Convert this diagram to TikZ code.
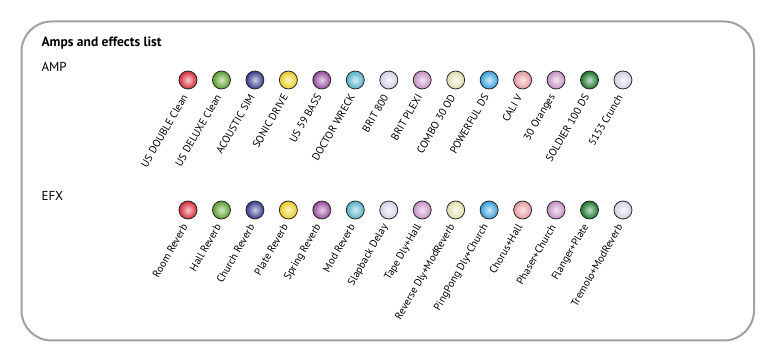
\documentclass[tikz,border=0pt]{standalone}
\usepackage{fontspec}
\setmainfont{PT Sans}
\usetikzlibrary{calc}
\definecolor{frameGray}{RGB}{160,160,160}
\definecolor{cRed}{RGB}{230,45,60}
\definecolor{cGreen}{RGB}{95,170,45}
\definecolor{cIndigo}{RGB}{60,60,150}
\definecolor{cYellow}{RGB}{250,220,40}
\definecolor{cPurple}{RGB}{160,80,165}
\definecolor{cCyan}{RGB}{90,190,215}
\definecolor{cLavender}{RGB}{228,225,245}
\definecolor{cLilac}{RGB}{210,155,210}
\definecolor{cCream}{RGB}{240,240,190}
\definecolor{cSky}{RGB}{60,170,235}
\definecolor{cPink}{RGB}{245,165,170}
\definecolor{cDkGreen}{RGB}{25,125,45}

\begin{document}
\begin{tikzpicture}[x=1pt, y=1pt,
    ball/.style={circle, draw=black!85, line width=0.8pt, inner sep=0pt,
      minimum size=18pt, inner color=#1!25!white, outer color=#1!92!black},
    lbl/.style={rotate=60, anchor=east, inner sep=0pt, font=\fontsize{10.6}{12}\selectfont},
    head/.style={anchor=west, font=\fontsize{13}{15}\selectfont}]
  \useasboundingbox (0,0) rectangle (780,364);
  % Rahmen
  \draw[frameGray, line width=2pt, rounded corners=30pt] (21.5,23.5) rectangle (754,342.5);
  % Titel
  \node[head, font=\fontsize{13.5}{15}\selectfont\bfseries] (title) at (38,321) {Amps and effects list};
  \node[head] (amp) at (38,297) {AMP};
  \node[head] (efx) at (38,168) {EFX};
  % Verstaerker
  \foreach \col/\txt [count=\i] in {cRed/US DOUBLE Clean, cGreen/US DELUXE Clean,
      cIndigo/ACOUSTIC SIM, cYellow/SONIC DRIVE, cPurple/US 59 BASS, cCyan/DOCTOR WRECK,
      cLavender/BRIT 800, cLilac/BRIT PLEXI, cCream/COMBO 30 OD, cSky/POWERFUL DS,
      cPink/CALI V, cLilac/30 Oranges, cDkGreen/SOLDIER 100 DS, cLavender/5153 Crunch}{
    \node[ball=\col] (amp\i) at ({188+33.46*(\i-1)},284) {};
    \node[lbl] (ampl\i) at ($(amp\i)+(-3,-15)$) {\txt};
  }
  % Effekte
  \foreach \col/\txt [count=\i] in {cRed/Room Reverb, cGreen/Hall Reverb,
      cIndigo/Church Reverb, cYellow/Plate Reverb, cPurple/Spring Reverb, cCyan/Mod Reverb,
      cLavender/Slapback Delay, cLilac/Tape Dly+Hall, cCream/Reverse Dly+ModReverb,
      cSky/PingPong Dly+Church, cPink/Chorus+Hall, cLilac/Phaser+Church,
      cDkGreen/Flanger+Plate, cLavender/Tremolo+ModReverb}{
    \node[ball=\col] (efx\i) at ({188+33.46*(\i-1)},154) {};
    \node[lbl] (efxl\i) at ($(efx\i)+(-3,-15)$) {\txt};
  }
\end{tikzpicture}
\end{document}
